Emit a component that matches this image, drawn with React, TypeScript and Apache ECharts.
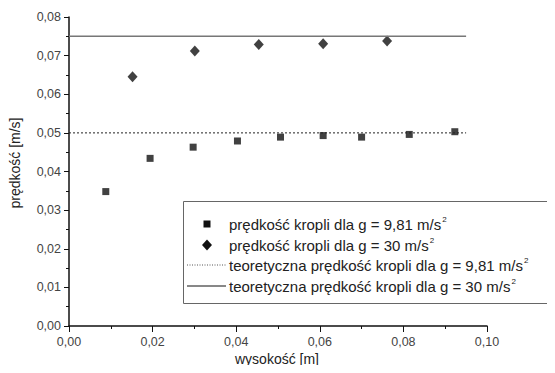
import React, { useEffect, useRef } from "react";
import * as echarts from "echarts";

const heightsG981 = [0.0088, 0.0194, 0.0297, 0.0403, 0.0506, 0.0608, 0.07, 0.0814, 0.0923];
const speedsG981 = [0.0348, 0.0434, 0.0463, 0.0479, 0.0489, 0.0493, 0.0489, 0.0496, 0.0503];
const heightsG30 = [0.0152, 0.0301, 0.0454, 0.0608, 0.0761];
const speedsG30 = [0.0645, 0.0712, 0.0729, 0.0731, 0.0738];
const theoryRange = [0, 0.095];
const theoryG981 = 0.05;
const theoryG30 = 0.075;

const names = [
  "prędkość kropli dla g = 9,81 m/s",
  "prędkość kropli dla g = 30 m/s",
  "teoretyczna prędkość kropli dla g = 9,81 m/s",
  "teoretyczna prędkość kropli dla g = 30 m/s",
];
const xTitle = "wysokość [m]";
const yTitle = "prędkość [m/s]";

const fmt = (v: number) => v.toFixed(2).replace(".", ",");

export default function App() {
  const ref = useRef<HTMLDivElement>(null);
  useEffect(() => {
    if (!ref.current) return;
    const chart = echarts.init(ref.current, null, { renderer: "svg" });
    const font = "Liberation Sans, Arial, sans-serif";
    const rowY = [224, 245, 265, 286];
    const textX = 229;
    const iconX = 207;
    const legendTexts = names.map((n, i) => ({
      type: "text",
      x: textX,
      y: rowY[i],
      z: 10,
      style: {
        text: `{t|${n}}{s|2}`,
        verticalAlign: "middle",
        rich: {
          t: { fontSize: 15, fill: "#222", fontFamily: font },
          s: { fontSize: 8, fill: "#222", fontFamily: font, verticalAlign: "top", padding: [0, 0, 10, 1] },
        },
      },
    }));
    chart.setOption({
      animation: false,
      textStyle: { fontFamily: font },
      grid: { left: 69, right: 68, top: 17, bottom: 47, containLabel: false },
      xAxis: {
        type: "value",
        min: 0,
        max: 0.1,
        interval: 0.02,
        axisLine: { lineStyle: { color: "#111", width: 1.5 } },
        axisTick: { show: true, length: 6, lineStyle: { color: "#111" } },
        minorTick: { show: true, splitNumber: 2, length: 3, lineStyle: { color: "#111" } },
        splitLine: { show: false },
        axisLabel: { formatter: fmt, fontSize: 12.5, color: "#444", margin: 9, fontFamily: font },
      },
      yAxis: {
        type: "value",
        min: 0,
        max: 0.08,
        interval: 0.01,
        axisLine: { show: true, lineStyle: { color: "#111", width: 1.5 } },
        axisTick: { show: true, length: 5, lineStyle: { color: "#111" } },
        minorTick: { show: true, splitNumber: 2, length: 3, lineStyle: { color: "#111" } },
        splitLine: { show: false },
        axisLabel: { formatter: fmt, fontSize: 12.5, color: "#444", margin: 8, fontFamily: font },
      },
      graphic: [
        {
          type: "text",
          x: 277,
          y: 359,
          style: { text: xTitle, fontSize: 14, fill: "#222", fontFamily: font, align: "center", verticalAlign: "middle" },
        },
        {
          type: "text",
          x: 15,
          y: 163,
          rotation: Math.PI / 2,
          style: { text: yTitle, fontSize: 14, fill: "#222", fontFamily: font, align: "center", verticalAlign: "middle" },
        },
        {
          type: "rect",
          shape: { x: 183.5, y: 201.5, width: 380, height: 102 },
          style: { fill: "#fff", stroke: "#666", lineWidth: 1 },
          z: 5,
        },
        {
          type: "rect",
          shape: { x: iconX - 3.5, y: rowY[0] - 3.5, width: 7, height: 7 },
          style: { fill: "#111" },
          z: 10,
        },
        {
          type: "polygon",
          shape: { points: [[iconX, rowY[1] - 5.5], [iconX + 5, rowY[1]], [iconX, rowY[1] + 5.5], [iconX - 5, rowY[1]]] },
          style: { fill: "#111" },
          z: 10,
        },
        {
          type: "line",
          shape: { x1: 187, y1: rowY[2], x2: 226, y2: rowY[2] },
          style: { stroke: "#555", lineWidth: 1, lineDash: [1, 1.5] },
          z: 10,
        },
        {
          type: "line",
          shape: { x1: 187, y1: rowY[3], x2: 226, y2: rowY[3] },
          style: { stroke: "#111", lineWidth: 1 },
          z: 10,
        },
        ...legendTexts,
      ],
      series: [
        {
          name: names[0] + "2",
          type: "scatter",
          symbol: "rect",
          symbolSize: 7,
          itemStyle: { color: "#111" },
          data: heightsG981.map((x, i) => [x, speedsG981[i]]),
        },
        {
          name: names[1] + "2",
          type: "scatter",
          symbol: "diamond",
          symbolSize: [10, 11],
          itemStyle: { color: "#111" },
          data: heightsG30.map((x, i) => [x, speedsG30[i]]),
        },
        {
          name: names[2] + "2",
          type: "line",
          symbol: "none",
          lineStyle: { color: "#222", width: 1, type: [2, 2] },
          data: theoryRange.map((x) => [x, theoryG981]),
        },
        {
          name: names[3] + "2",
          type: "line",
          symbol: "none",
          lineStyle: { color: "#777", width: 1.5, type: "solid" },
          data: theoryRange.map((x) => [x, theoryG30]),
        },
      ],
    });
    return () => chart.dispose();
  }, []);
  return <div ref={ref} style={{ width: 555, height: 373, margin: -8 }} />;
}
